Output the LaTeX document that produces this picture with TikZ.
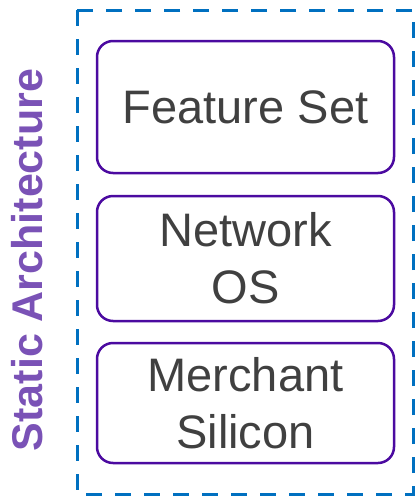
\documentclass[tikz,border=0pt]{standalone}
\usepackage{fontspec}
\setmainfont{Liberation Sans}
\usepackage{tikz}
\usetikzlibrary{positioning}

\definecolor{frameblue}{RGB}{0,112,192}
\definecolor{boxpurple}{RGB}{75,10,160}
\definecolor{labelpurple}{RGB}{122,82,182}
\definecolor{textgray}{RGB}{64,64,64}

\tikzset{
  layerbox/.style={draw=boxpurple, line width=2.5pt, rounded corners=16pt,
    minimum width=297pt, align=center, text=textgray,
    font=\fontsize{47}{57}\selectfont},
}

\begin{document}
\begin{tikzpicture}[x=1pt, y=-1pt]
  \useasboundingbox (0,0) rectangle (416,496);

  % Dashed frame around the stack
  \draw[frameblue, line width=3pt, dash pattern=on 16pt off 13pt] (77,10) rectangle (413,494);

  % Side label
  \node[rotate=90, text=labelpurple, font=\fontsize{43}{50}\selectfont\bfseries] (archlabel) at (27,260) {Static Architecture};

  % Layers (top to bottom)
  \node[layerbox, minimum height=132pt] (featureset) at (245.5,107) {Feature Set};
  \node[layerbox, minimum height=125pt] (networkos) at (245.5,258.5) {Network\\OS};
  \node[layerbox, minimum height=120pt] (silicon) at (245.5,403) {Merchant\\Silicon};
\end{tikzpicture}
\end{document}
